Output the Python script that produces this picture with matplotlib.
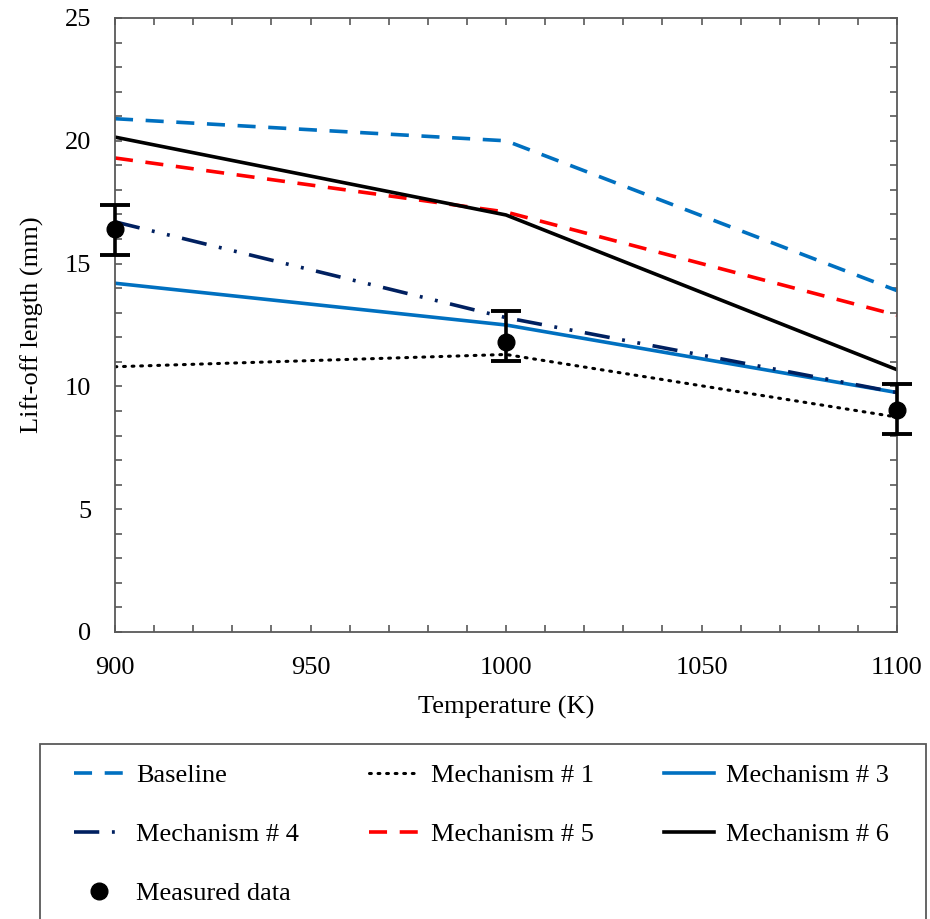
import matplotlib.pyplot as plt
from matplotlib.patches import Rectangle
from matplotlib.ticker import MultipleLocator

# Daten
temperatur = [900, 1000, 1100]
baseline = [20.9, 20.0, 13.9]
mech1 = [10.8, 11.3, 8.75]
mech3 = [14.2, 12.5, 9.75]
mech4 = [16.7, 12.8, 9.75]
mech5 = [19.3, 17.1, 12.9]
mech6 = [20.15, 16.98, 10.68]

gemessen = [16.4, 11.8, 9.05]
fehler_unten = [1.05, 0.78, 1.0]
fehler_oben = [1.0, 1.25, 1.05]

plt.rcParams['font.family'] = ['Liberation Serif', 'DejaVu Serif']

fig = plt.figure(figsize=(9.3, 9.19), dpi=100)
ax = fig.add_axes([115 / 930, 1 - 632 / 919, (897 - 115) / 930, (632 - 18) / 919])

lw = 2.6
l_base, = ax.plot(temperatur, baseline, color='#0070C0', lw=lw, dashes=(5, 3.5), label='Baseline')
l_m1, = ax.plot(temperatur, mech1, color='black', lw=2.2, linestyle=(0, (0.6, 2.2)),
                dash_capstyle='round', label='Mechanism # 1')
l_m3, = ax.plot(temperatur, mech3, color='#0070C0', lw=lw, label='Mechanism # 3')
l_m4, = ax.plot(temperatur, mech4, color='#002060', lw=lw,
                dashes=(7, 3.5, 0.8, 3.5, 0.8, 3.5), label='Mechanism # 4')
l_m5, = ax.plot(temperatur, mech5, color='#FF0000', lw=lw, dashes=(5, 3.5), label='Mechanism # 5')
l_m6, = ax.plot(temperatur, mech6, color='black', lw=lw, label='Mechanism # 6')

# Messdaten mit Fehlerbalken
eb = ax.errorbar(temperatur, gemessen, yerr=[fehler_unten, fehler_oben], fmt='none', ecolor='black',
                 elinewidth=2.6, capsize=11, capthick=2.8, zorder=5)
for art in eb.lines[1] + eb.lines[2]:
    art.set_clip_on(False)
l_mess, = ax.plot(temperatur, gemessen, 'o', color='black', markersize=12, zorder=6,
                  clip_on=False, label='Measured data')

ax.set_xlim(900, 1100)
ax.set_ylim(0, 25)
ax.xaxis.set_major_locator(MultipleLocator(50))
ax.xaxis.set_minor_locator(MultipleLocator(10))
ax.yaxis.set_major_locator(MultipleLocator(5))
ax.yaxis.set_minor_locator(MultipleLocator(1))
ax.tick_params(which='both', direction='in', top=True, right=True, length=5, width=1.2,
               color='#595959', labelsize=19)
ax.tick_params(axis='x', pad=18)
ax.tick_params(axis='y', pad=17)
for s in ax.spines.values():
    s.set_color('#595959')
    s.set_linewidth(1.3)

ax.set_xlabel('Temperature (K)', fontsize=19, labelpad=12)
ax.set_ylabel('Lift-off length (mm)', fontsize=19, labelpad=15)

# Legende unter dem Diagramm
handles = [l_base, l_m4, l_mess, l_m1, l_m5, l_m3, l_m6]
labels = [h.get_label() for h in handles]
fig.legend(handles, labels, loc='upper left', bbox_to_anchor=(50 / 930, 1 - 740 / 919),
           ncol=3, frameon=False, fontsize=19, handlelength=1.9, handletextpad=0.45,
           columnspacing=2.65, labelspacing=1.35)
fig.patches.append(Rectangle((40 / 930, -0.02), (926 - 40) / 930, 0.02 + (919 - 744) / 919,
                             transform=fig.transFigure, fill=False, edgecolor='#595959', lw=1.3))

fig.savefig('out.png', dpi=100)
